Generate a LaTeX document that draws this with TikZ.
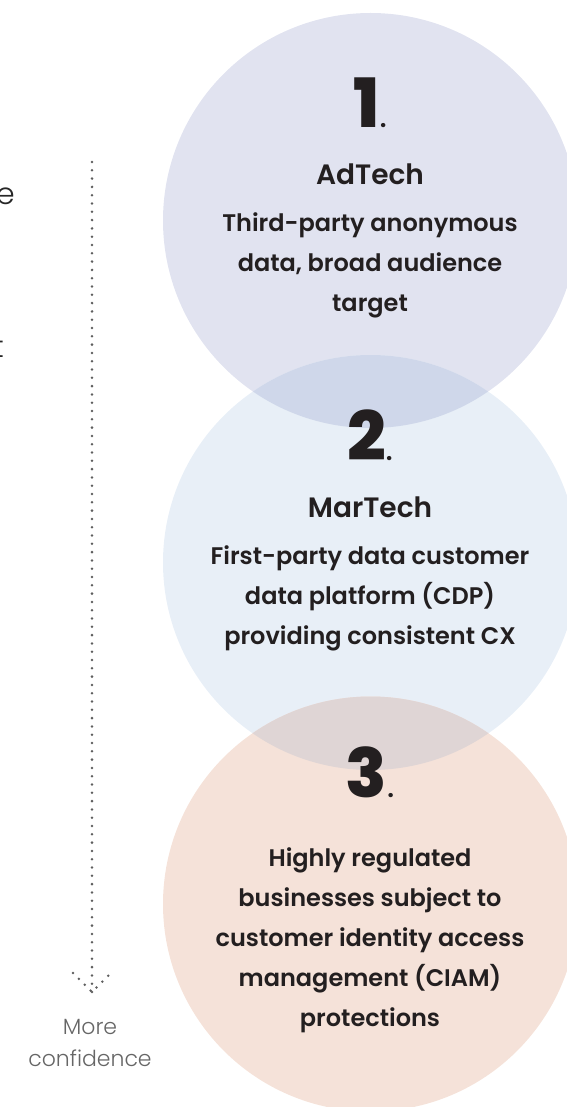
\documentclass[tikz,border=0pt]{standalone}
\usepackage{fontspec}
\setmainfont{Poppins}[BoldFont=* SemiBold]
\newfontfamily\numfont{Poppins ExtraBold}
\newfontfamily\lightfont{Poppins Light}
\usetikzlibrary{positioning}

\definecolor{adtech}{HTML}{E1E3F0}
\definecolor{martech}{HTML}{E8EFF7}
\definecolor{ciam}{HTML}{F5E2D9}
\definecolor{admar}{HTML}{CFD7EA}
\definecolor{marciam}{HTML}{DFD5D5}
\definecolor{ink}{HTML}{231F20}
\definecolor{dotgray}{HTML}{5E5E5E}
\definecolor{notegray}{HTML}{666666}
\newcommand{\smalldot}{{\fontsize{26}{26}\selectfont\rmfamily\bfseries .}}

\begin{document}
\begin{tikzpicture}[x=1pt,y=-1pt,
    bubble/.style={circle, minimum size=415pt, inner sep=0pt, draw=none},
    num/.style={font=\fontsize{68}{68}\selectfont\numfont, text=ink, anchor=base},
    title/.style={font=\fontsize{28}{34}\selectfont\bfseries, text=ink, anchor=base},
    body/.style={font=\fontsize{24}{40}\selectfont\bfseries, text=ink, align=center, anchor=base},
    note/.style={font=\fontsize{22}{32}\selectfont\lightfont, text=notegray, align=center},
    fragment/.style={font=\fontsize{30}{30}\selectfont\lightfont, text=black!85, anchor=base east, inner sep=0pt},
    dots/.style={draw=dotgray, line width=2.8pt, line cap=round, dash pattern=on 0pt off 8.3pt}
]
    \useasboundingbox (0,0) rectangle (566,1107);

    % Bubbles
    \node[bubble, fill=adtech] (ad) at (370.5,220.5) {};
    \node[bubble, fill=martech] (mar) at (370.5,562.5) {};
    \node[bubble, fill=ciam] (ci) at (370.5,904) {};

    % Overlaps
    \begin{scope}
        \clip (ad.center) circle (207.5);
        \fill[admar] (mar.center) circle (207.5);
    \end{scope}
    \begin{scope}
        \clip (mar.center) circle (207.5);
        \fill[marciam] (ci.center) circle (207.5);
    \end{scope}

    % Texts (base = last line)
    \node[num] (n1) at (370,128) {1\smalldot};
    \node[title] (t1) at (370,185) {AdTech};
    \node[body] (b1) at (370,311) {Third-party anonymous\\data, broad audience\\target};

    \node[num] (n2) at (370,460) {2\smalldot};
    \node[title] (t2) at (370,517) {MarTech};
    \node[body] (b2) at (370,644) {First-party data customer\\data platform (CDP)\\providing consistent CX};

    \node[num] (n3) at (370,797) {3\smalldot};
    \node[body] (b3) at (370,1026) {Highly regulated\\businesses subject to\\customer identity access\\management (CIAM)\\protections};

    % Side fragments
    \node[fragment] (fe) at (15,205) {e};
    \node[fragment] (ft) at (4,357) {t};

    % Confidence arrow
    \coordinate (top) at (92,162);
    \coordinate (tip) at (92,992);
    \coordinate (wingl) at (73,973);
    \coordinate (wingr) at (111,973);
    \draw[dots] (top) -- (tip);
    \draw[dots] (wingl) -- (tip) -- (wingr);
    \node[note] (more) at (90,1043) {More\\confidence};
\end{tikzpicture}
\end{document}
